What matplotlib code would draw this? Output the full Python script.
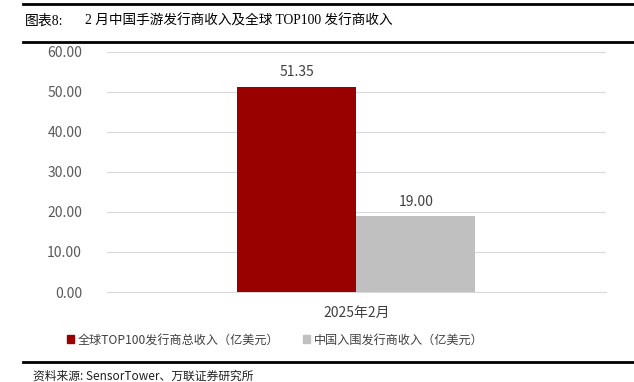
import matplotlib
matplotlib.use("Agg")
import matplotlib.pyplot as plt
from matplotlib.patches import Rectangle
from matplotlib.lines import Line2D
import numpy as np

# 数据
category = ["2025年2月"]
series_names = ["全球TOP100发行商总收入（亿美元）", "中国入围发行商收入（亿美元）"]
global_top100 = [51.35]
china_pub = [19.00]
colors = ["#990000", "#C0C0C0"]

plt.rcParams['font.family'] = ['Noto Sans CJK SC', 'DejaVu Sans']

fig = plt.figure(figsize=(6.34, 3.82), dpi=100)
ax = fig.add_axes([0.1688, 0.2356, 0.787, 0.6283])

x = np.arange(len(category))
w = 0.2385
b1 = ax.bar(x - w / 2, global_top100, w, color=colors[0], zorder=3)
b2 = ax.bar(x + w / 2, china_pub, w, color=colors[1], zorder=3)

for bars, vals in ((b1, global_top100), (b2, china_pub)):
    for r, v in zip(bars, vals):
        ax.text(r.get_x() + r.get_width() / 2, v + 1.8, f"{v:.2f}",
                ha="center", va="bottom", fontsize=10, color="#404040")

ax.set_xlim(-0.5, 0.5)
ax.set_ylim(0, 60)
ax.set_yticks(np.arange(0, 61, 10))
ax.set_yticklabels([f"{t:.2f}" for t in np.arange(0, 61, 10)], fontsize=10, color="#595959")
ax.set_xticks(x)
ax.set_xticklabels(category, fontsize=10, color="#404040")
ax.tick_params(axis="x", length=0, pad=10)
ax.tick_params(axis="y", length=0, pad=18)
ax.grid(axis="y", color="#D9D9D9", linewidth=0.8, zorder=0)
for s in ("top", "right", "left"):
    ax.spines[s].set_visible(False)
ax.spines["bottom"].set_color("#D9D9D9")

# 图例
handles = [Rectangle((0, 0), 1, 1, color=c) for c in colors]
fig.legend(handles, series_names, loc="center", bbox_to_anchor=(0.434, 0.11), ncol=2,
           frameon=False, fontsize=8.7, handlelength=0.6, handleheight=0.6,
           handletextpad=0.3, columnspacing=1.9, labelcolor="#404040")

# 标题与横线
fig.add_artist(Line2D([0.036, 1.0], [0.99, 0.99], color="black", linewidth=2.0))
fig.add_artist(Line2D([0.036, 1.0], [0.89, 0.89], color="black", linewidth=2.0))
fig.add_artist(Line2D([0.036, 1.0], [0.052, 0.052], color="black", linewidth=2.0))
title_font = ["Liberation Serif", "Noto Sans CJK SC"]
fig.text(0.04, 0.945, "图表8:", fontsize=10, family=title_font, va="center", ha="left")
fig.text(0.134, 0.945, "2 月中国手游发行商收入及全球 TOP100 发行商收入", fontsize=9.8,
         family=title_font, va="center", ha="left")
fig.text(0.052, 0.016, "资料来源: SensorTower、万联证券研究所", fontsize=8.5,
         style="italic", va="center", ha="left", color="#202020")

fig.savefig("out.png", dpi=100)
